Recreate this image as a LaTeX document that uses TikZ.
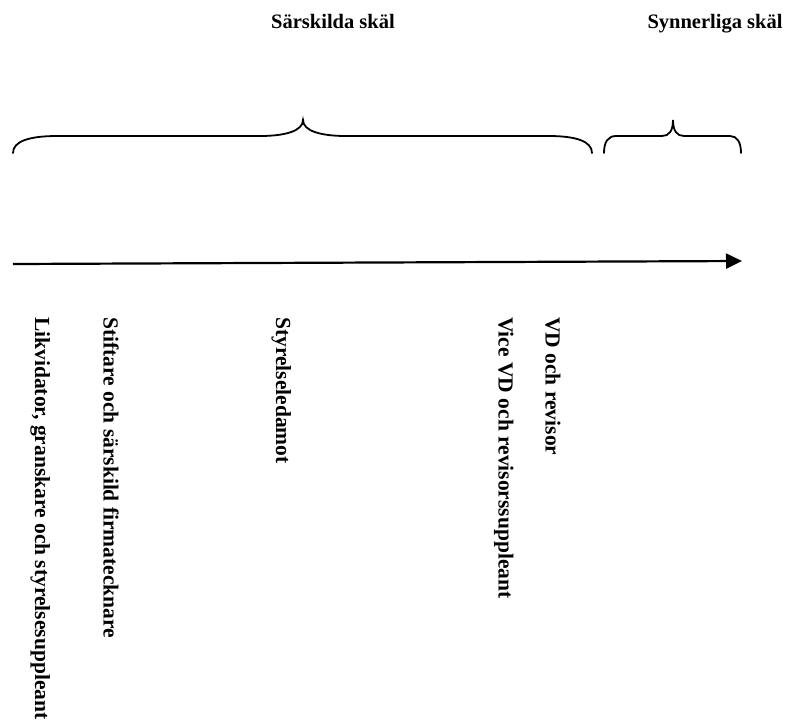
\documentclass[tikz,border=0pt]{standalone}
\usepackage{fontspec}
\setmainfont{Liberation Serif}
\usetikzlibrary{arrows.meta}
\begin{document}
\begin{tikzpicture}[x=1pt,y=-1pt,
  toplabel/.style={inner sep=0pt,anchor=base,font=\bfseries\fontsize{20.5}{24}\selectfont},
  vlabel/.style={inner sep=0pt,anchor=base west,rotate=-90,font=\bfseries\fontsize{21.5}{24}\selectfont},
  bracepath/.style={line width=1.8pt,line cap=round},
  axis/.style={line width=2.2pt,-{Triangle[length=16pt,width=15pt]}}]
\useasboundingbox (0,0) rectangle (795,724);
% top labels
\node[toplabel] (sark) at (333,28) {Särskilda skäl};
\node[toplabel] (synn) at (715,28) {Synnerliga skäl};
% big brace
\draw[bracepath] (13,153) .. controls (13,141) and (30,136) .. (57,136) -- (260,136)
  .. controls (285,136) and (303,131) .. (303,120)
  .. controls (303,131) and (321,136) .. (346,136) -- (549,136)
  .. controls (575,136) and (592,141) .. (592,153);
% small brace
\draw[bracepath] (604,153) .. controls (604,142) and (608,136) .. (616,136) -- (662,136)
  .. controls (669,136) and (673,131) .. (673,120)
  .. controls (673,131) and (677,136) .. (684,136) -- (730,136)
  .. controls (737,136) and (741,142) .. (741,153);
% axis
\coordinate (a0) at (13,264);
\coordinate (a1) at (742,261);
\draw[axis] (a0) -- (a1);
% vertical labels
\node[vlabel] (likv) at (35,317) {Likvidator, granskare och styrelsesuppleant};
\node[vlabel] (stif) at (103.5,317) {Stiftare och särskild firmatecknare};
\node[vlabel] (styr) at (276,317) {Styrelseledamot};
\node[vlabel] (vice) at (498.5,317) {Vice VD och revisorssuppleant};
\node[vlabel] (vdre) at (545.5,317) {VD och revisor};
\end{tikzpicture}
\end{document}
